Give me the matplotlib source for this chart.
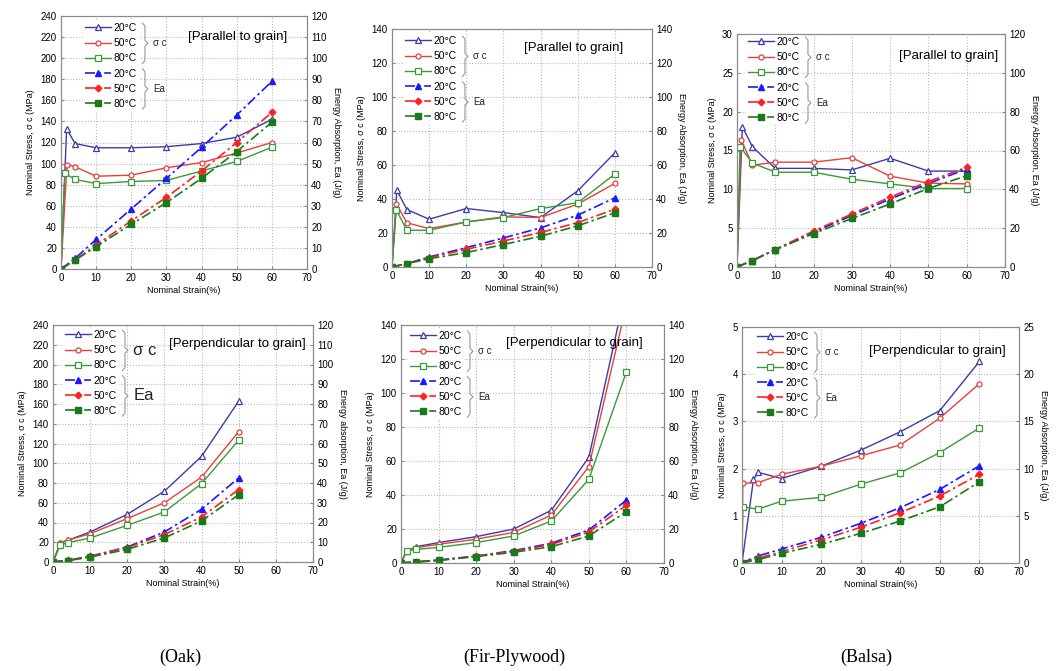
import matplotlib.pyplot as plt
from matplotlib import font_manager
from matplotlib.lines import Line2D

plt.rcParams["font.family"] = ["Liberation Sans", "DejaVu Sans"]

installed = {f.name for f in font_manager.fontManager.ttflist}
TITLE_FONT = ["Liberation Sans Narrow", "Liberation Sans"] if "Liberation Sans Narrow" in installed else ["Liberation Sans"]

TEMPS = ["20°C", "50°C", "80°C"]
EA_STRAIN = [0, 4, 10, 20, 30, 40, 50, 60]
STRAIN_TICKS = [0, 10, 20, 30, 40, 50, 60, 70]

# ---- Oak, parallel to grain ----
OAK_PAR_STRAIN = [
    [0, 1.6, 4, 10, 20, 30, 40, 50, 60],
    [0, 1.7, 4, 10, 20, 30, 40, 50, 60],
    [0, 1.1, 4, 10, 20, 30, 40, 50, 60],
]
OAK_PAR_STRESS = [
    [0, 133, 119, 115, 115, 116, 119, 125, 142],
    [0, 99, 97, 88, 89, 96, 101, 110, 120],
    [0, 91, 85, 81, 83, 84, 93, 102, 115.5],
]
OAK_PAR_EA = [
    [0, 5, 14, 28.5, 43, 57.7, 73, 89],
    [0, 4.3, 11.4, 22.8, 34, 46.5, 60, 74.3],
    [0, 4.2, 10.6, 21.2, 31.5, 43, 55.7, 69.6],
]

# ---- Fir-Plywood, parallel to grain ----
FIR_PAR_STRAIN = [
    [0, 1.3, 4, 10, 20, 30, 40, 50, 60],
    [0, 1.2, 4, 10, 20, 30, 40, 50, 60],
    [0, 1.1, 4, 10, 20, 30, 40, 50, 60],
]
FIR_PAR_STRESS = [
    [0, 45.2, 33.8, 28.1, 34.4, 32, 29.1, 44.8, 67.2],
    [0, 37, 26, 22.6, 26.5, 29.5, 29.1, 37, 49.2],
    [0, 33.8, 21.6, 21.6, 26.5, 29.1, 34.4, 37.8, 54.7],
]
FIR_PAR_EA = [
    [0, 2, 5.9, 11.4, 17.1, 23, 30.5, 40.7],
    [0, 2, 5.5, 10.4, 15.3, 20.3, 26.1, 34],
    [0, 2, 4.9, 8.5, 13.2, 18.1, 24.2, 31.9],
]

# ---- Balsa, parallel to grain ----
BALSA_PAR_STRAIN = [
    [0, 1.4, 4, 10, 20, 30, 40, 50, 60],
    [0, 1.1, 4, 10, 20, 30, 40, 50, 60],
    [0, 0.8, 4, 10, 20, 30, 40, 50, 60],
]
BALSA_PAR_STRESS = [
    [0, 18.06, 15.5, 12.7, 12.7, 12.5, 14, 12.35, 12.35],
    [0, 16.4, 13.1, 13.5, 13.5, 14.07, 11.7, 10.8, 10.7],
    [0, 15.5, 13.4, 12.2, 12.2, 11.3, 10.7, 10.1, 10.1],
]
BALSA_PAR_EA = [
    [0, 3.3, 9, 18, 26.5, 35, 43, 50.5],
    [0, 3.3, 9, 18.5, 27.3, 36, 44, 51.4],
    [0, 3.3, 8.8, 17.2, 25, 32.5, 40.5, 47],
]

# ---- Oak, perpendicular to grain ----
OAK_PER_STRAIN = [
    [0, 2, 4, 10, 20, 30, 40, 50],
    [0, 2, 4, 10, 20, 30, 40, 50],
    [0, 2, 4, 10, 20, 30, 40, 50],
]
OAK_PER_STRESS = [
    [0, 19.6, 22, 30.4, 48.3, 71.7, 107, 163],
    [0, 19.6, 22, 28.7, 44, 60, 86, 132],
    [0, 17.6, 19.6, 24.3, 37.2, 50.7, 79.4, 123.4],
]
OAK_PER_EA_STRAIN = [0, 4, 10, 20, 30, 40, 50]
OAK_PER_EA = [
    [0, 0.8, 2.9, 7.6, 15.2, 26.7, 42.6],
    [0, 0.8, 2.9, 7.3, 13.9, 22.8, 36.7],
    [0, 0.7, 2.5, 6.4, 12.2, 20.8, 34.1],
]

# ---- Fir-Plywood, perpendicular to grain ----
FIR_PER_STRAIN = [
    [0, 1.5, 4, 10, 20, 30, 40, 50, 60],
    [0, 1.5, 4, 10, 20, 30, 40, 50, 60],
    [0, 1.5, 4, 10, 20, 30, 40, 50, 60],
]
FIR_PER_STRESS = [
    [0, 7, 9.6, 12, 15.5, 20, 31, 62.2, 162],
    [0, 7, 9, 11, 14, 18, 28.2, 56.7, 152],
    [0, 7.3, 8, 9.2, 12, 15.9, 24.7, 49.2, 112.5],
]
FIR_PER_EA = [
    [0, 0.7, 1.8, 4.1, 7.3, 11.6, 19.4, 37],
    [0, 0.6, 1.6, 4, 6.9, 10.9, 18.2, 34],
    [0, 0.5, 1.5, 3.8, 6.3, 9.6, 15.9, 30.2],
]

# ---- Balsa, perpendicular to grain ----
BALSA_PER_STRAIN = [
    [0, 2.9, 4.1, 10, 20, 30, 40, 50, 60],
    [0, 0.2, 4, 10, 20, 30, 40, 50, 60],
    [0, 0.2, 4, 10, 20, 30, 40, 50, 60],
]
BALSA_PER_STRESS = [
    [0, 1.77, 1.92, 1.79, 2.05, 2.39, 2.78, 3.23, 4.27],
    [0, 1.69, 1.7, 1.88, 2.05, 2.27, 2.5, 3.07, 3.8],
    [0, 1.19, 1.14, 1.31, 1.39, 1.67, 1.91, 2.34, 2.86],
]
BALSA_PER_EA = [
    [0, 0.74, 1.48, 2.72, 4.2, 5.86, 7.8, 10.3],
    [0, 0.5, 1.2, 2.44, 3.78, 5.33, 7.1, 9.4],
    [0, 0.35, 1.02, 1.98, 3.14, 4.45, 5.96, 8.6],
]

WOOD_NAMES = ["(Oak)", "(Fir-Plywood)", "(Balsa)"]

STRESS_STYLE = [
    dict(color="#3c3ca8", marker="^", ms=4.5),
    dict(color="#e8403c", marker="o", ms=3.6),
    dict(color="#3a9a3a", marker="s", ms=4.5),
]
EA_STYLE = [
    dict(color="#1a1aff", marker="^", ms=4.5),
    dict(color="#ff2020", marker="D", ms=3.4),
    dict(color="#1a7a1a", marker="s", ms=4.0),
]
DASHDOT = (0, (6, 2, 1.5, 2))

FIG_W, FIG_H = 1058, 671


def px_rect(left, top, right, bottom):
    return [left / FIG_W, 1 - bottom / FIG_H, (right - left) / FIG_W, (bottom - top) / FIG_H]


panels = [
    dict(rect=px_rect(61, 16, 307, 269), strain=OAK_PAR_STRAIN, stress=OAK_PAR_STRESS,
         ea_strain=EA_STRAIN, ea=OAK_PAR_EA, ymax=240, ystep=20, y2max=120, y2step=10,
         title="[Parallel to grain]", title_xy=(0.92, 0.917), leg=(22, 5), big=False,
         ea_label="Energy Absorption, Ea (J/g)"),
    dict(rect=px_rect(392, 29, 652, 267), strain=FIR_PAR_STRAIN, stress=FIR_PAR_STRESS,
         ea_strain=EA_STRAIN, ea=FIR_PAR_EA, ymax=140, ystep=20, y2max=140, y2step=20,
         title="[Parallel to grain]", title_xy=(0.888, 0.92), leg=(11, 5), big=False,
         ea_label="Energy Absorption, Ea (J/g)"),
    dict(rect=px_rect(737, 34, 1005, 267), strain=BALSA_PAR_STRAIN, stress=BALSA_PAR_STRESS,
         ea_strain=EA_STRAIN, ea=BALSA_PAR_EA, ymax=30, ystep=5, y2max=120, y2step=20,
         title="[Parallel to grain]", title_xy=(0.974, 0.906), leg=(9, 1), big=False,
         ea_label="Energy Absorption, Ea (J/g)"),
    dict(rect=px_rect(53, 325, 313, 562), strain=OAK_PER_STRAIN, stress=OAK_PER_STRESS,
         ea_strain=OAK_PER_EA_STRAIN, ea=OAK_PER_EA, ymax=240, ystep=20, y2max=120, y2step=10,
         title="[Perpendicular to grain]", title_xy=(0.973, 0.92), leg=(10, 3), big=True,
         ea_label="Energy absorption, Ea (J/g)"),
    dict(rect=px_rect(401, 325, 664, 563), strain=FIR_PER_STRAIN, stress=FIR_PER_STRESS,
         ea_strain=EA_STRAIN, ea=FIR_PER_EA, ymax=140, ystep=20, y2max=140, y2step=20,
         title="[Perpendicular to grain]", title_xy=(0.92, 0.924), leg=(7, 4), big=False,
         ea_label="Energy Absorption, Ea (J/g)"),
    dict(rect=px_rect(742, 327, 1019, 563), strain=BALSA_PER_STRAIN, stress=BALSA_PER_STRESS,
         ea_strain=EA_STRAIN, ea=BALSA_PER_EA, ymax=5, ystep=1, y2max=25, y2step=5,
         title="[Perpendicular to grain]", title_xy=(0.953, 0.90), leg=(13, 3), big=False,
         ea_label="Energy Absorption, Ea (J/g)"),
]


def add_brace(ax, x, top, bot, label, size):
    # x, top, bot in display pixels
    mid = (top + bot) / 2
    pts = [(x, top), (x + 2.5, top - 3), (x + 2.5, mid + 3), (x + 5.5, mid),
           (x + 2.5, mid - 3), (x + 2.5, bot + 3), (x, bot)]
    inv = ax.transAxes.inverted()
    pts = inv.transform(pts)
    ax.add_line(Line2D(pts[:, 0], pts[:, 1], transform=ax.transAxes, color="#999999",
                       lw=0.8, clip_on=False, zorder=10))
    lx, ly = inv.transform((x + 11, mid))
    ax.text(lx, ly, label, transform=ax.transAxes, fontsize=size, va="center", ha="left",
            color="#222222", zorder=10)


fig = plt.figure(figsize=(FIG_W / 100, FIG_H / 100), dpi=100)
legends = []

for p in panels:
    ax = fig.add_axes(p["rect"])
    ax2 = ax.twinx()

    handles = []
    for i in range(3):
        st = STRESS_STYLE[i]
        h, = ax.plot(p["strain"][i], p["stress"][i], "-", color=st["color"], marker=st["marker"],
                     ms=st["ms"], mfc="white", mec=st["color"], mew=0.9, lw=1.0)
        handles.append(h)
    for i in range(3):
        st = EA_STYLE[i]
        h, = ax2.plot(p["ea_strain"], p["ea"][i], color=st["color"], linestyle=DASHDOT,
                      marker=st["marker"], ms=st["ms"], mfc=st["color"], mec=st["color"], lw=1.2)
        handles.append(h)

    ax.set_xlim(0, 70)
    ax.set_xticks(STRAIN_TICKS)
    ax.set_ylim(0, p["ymax"])
    ax.set_yticks([p["ystep"] * k for k in range(int(round(p["ymax"] / p["ystep"])) + 1)])
    ax2.set_ylim(0, p["y2max"])
    ax2.set_yticks([p["y2step"] * k for k in range(int(round(p["y2max"] / p["y2step"])) + 1)])

    ax.grid(True, color="#b8b8b8", linestyle=":", linewidth=0.8)
    ax.set_axisbelow(True)
    for a in (ax, ax2):
        a.tick_params(labelsize=7, direction="in", length=2, color="#888888", pad=3)
        for s in a.spines.values():
            s.set_color("#8a8a8a")
            s.set_linewidth(0.8)

    ax.set_xlabel("Nominal Strain(%)", fontsize=6.5, labelpad=2)
    ax.set_ylabel("Nominal Stress, σ c (MPa)", fontsize=6.5, labelpad=4)
    ax2.set_ylabel(p["ea_label"], fontsize=6.5, rotation=270, labelpad=10)

    ax2.text(p["title_xy"][0], p["title_xy"][1], p["title"], transform=ax.transAxes,
             ha="right", va="center", fontsize=9.5, family=TITLE_FONT, zorder=11)

    # legend anchored by pixel offsets from the axes top-left corner
    w_px = p["rect"][2] * FIG_W
    h_px = p["rect"][3] * FIG_H
    dx, dy = p["leg"]
    leg = ax2.legend(handles, TEMPS + TEMPS, loc="upper left",
                     bbox_to_anchor=(dx / w_px, 1 - dy / h_px), borderaxespad=0,
                     fontsize=7.5, handlelength=2.5, handletextpad=0.2, labelspacing=0.5,
                     borderpad=0.2, frameon=True, fancybox=False, facecolor="white",
                     edgecolor="none", framealpha=1)
    leg.set_zorder(9)
    legends.append((ax2, leg, p["big"]))

for x, name in zip([0.170, 0.486, 0.8185], WOOD_NAMES):
    fig.text(x, 1 - 657 / FIG_H, name, ha="center", va="center", fontsize=13,
             family=["Liberation Serif", "DejaVu Serif"])

fig.canvas.draw()
for ax2, leg, big in legends:
    boxes = [t.get_window_extent() for t in leg.get_texts()]
    xb = max(b.x1 for b in boxes) + 6
    size = 12 if big else 7
    add_brace(ax2, xb, boxes[0].y1, boxes[2].y0, "σ c", size)
    add_brace(ax2, xb, boxes[3].y1, boxes[5].y0, "Ea", size)

fig.savefig("out.png", dpi=100)
